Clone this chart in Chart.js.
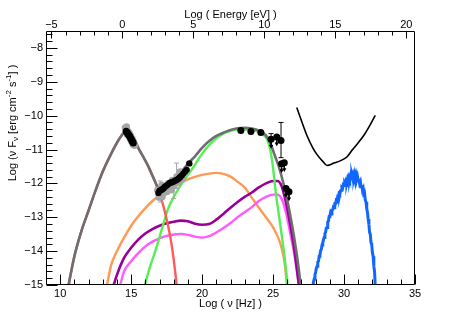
<!DOCTYPE html>
<html>
<head>
<meta charset="utf-8">
<script src="https://cdn.jsdelivr.net/npm/chart.js@4.4.1/dist/chart.umd.min.js"></script>
<style>
  html, body { margin: 0; padding: 0; background: #fff; }
</style>
</head>
<body>
<canvas id="sed" width="463" height="316"></canvas>
<script>
/* SED: synchrotron + SSC model, data points and sensitivity */

// --- axes ---
const nuTicks = [10, 15, 20, 25, 30, 35];
const eTicks = [-5, 0, 5, 10, 15, 20];
const fluxTicks = [-15, -14, -13, -12, -11, -10, -9, -8];
const LOG_H = 14.383; // log(nu/Hz) - log(E/eV)

// --- model curves ---
const syncNu   = [10.5, 11.0, 11.5, 12.0, 12.5, 13.0, 13.5, 14.0, 14.3, 14.6, 14.9, 15.2, 15.5, 15.9, 16.2, 16.5, 16.8, 17.1, 17.4, 17.7, 17.9, 18.1, 18.25];
const syncFlux = [-15.2, -14.15, -13.4, -12.8, -12.2, -11.65, -11.2, -10.8, -10.6, -10.48, -10.52, -10.68, -10.95, -11.25, -11.49, -11.77, -12.08, -12.43, -12.88, -13.45, -13.95, -14.6, -15.2];

const totalNu   = [10.5, 11.0, 11.5, 12.0, 12.5, 13.0, 13.5, 14.0, 14.3, 14.6, 14.9, 15.2, 15.5, 15.9, 16.2, 16.5, 16.8, 17.0, 17.2, 17.5, 17.8, 18.2, 18.6, 19.0, 19.5, 20.0, 20.5, 21.0, 21.5, 22.0, 22.5, 23.0, 23.5, 24.0, 24.5, 24.8, 25.1, 25.4, 25.7, 26.0, 26.3, 26.6, 26.8, 27.0];
const totalFlux = [-15.2, -14.15, -13.4, -12.8, -12.2, -11.65, -11.2, -10.8, -10.6, -10.48, -10.52, -10.68, -10.95, -11.25, -11.49, -11.77, -12.05, -12.2, -12.22, -12.1, -11.95, -11.8, -11.62, -11.42, -11.2, -10.95, -10.75, -10.6, -10.5, -10.42, -10.37, -10.36, -10.38, -10.44, -10.58, -10.8, -11.15, -11.5, -11.95, -12.5, -13.15, -13.9, -14.5, -15.2];

const sscNu   = [15.9, 16.3, 16.7, 17.2, 17.6, 18.0, 18.5, 19.0, 19.5, 20.0, 20.5, 21.0, 21.5, 22.0, 22.5, 23.0, 23.5, 24.0, 24.3, 24.6, 24.8, 25.0, 25.2, 25.5, 25.8, 26.05];
const sscFlux = [-15.1, -14.5, -14.0, -13.3, -12.75, -12.4, -12.05, -11.75, -11.45, -11.12, -10.87, -10.67, -10.53, -10.45, -10.41, -10.41, -10.43, -10.48, -10.56, -10.72, -11.0, -11.55, -12.3, -13.2, -14.15, -15.1];

const orangeNu   = [13.25, 13.6, 14.0, 14.5, 15.0, 15.5, 16.0, 16.5, 17.0, 17.5, 18.0, 18.5, 19.0, 19.5, 20.0, 20.5, 21.0, 21.5, 22.0, 22.5, 23.0, 23.5, 24.0, 24.5, 25.0, 25.5, 25.8, 26.0];
const orangeFlux = [-15.1, -14.4, -14.0, -13.6, -13.25, -12.97, -12.73, -12.52, -12.35, -12.2, -12.08, -11.97, -11.88, -11.81, -11.75, -11.71, -11.69, -11.72, -11.8, -11.95, -12.12, -12.42, -12.72, -13.0, -13.3, -13.76, -14.3, -15.1];

const purpleNu   = [13.7, 14.0, 14.5, 15.0, 15.5, 16.0, 16.5, 17.0, 17.5, 18.0, 18.5, 19.0, 19.5, 20.0, 20.5, 21.0, 21.5, 22.0, 22.5, 23.0, 23.5, 24.0, 24.5, 25.0, 25.3, 25.6, 25.9, 26.2, 26.5, 26.85];
const purpleFlux = [-15.1, -14.7, -14.2, -13.9, -13.66, -13.48, -13.35, -13.25, -13.18, -13.13, -13.1, -13.12, -13.19, -13.22, -13.2, -13.07, -12.9, -12.72, -12.55, -12.4, -12.27, -12.12, -12.0, -11.93, -11.93, -12.08, -12.55, -13.2, -13.95, -15.1];

const pinkNu   = [14.2, 14.5, 15.0, 15.5, 16.0, 16.5, 17.0, 17.5, 18.0, 18.5, 19.0, 19.5, 20.0, 20.5, 21.0, 21.5, 22.0, 22.5, 23.0, 23.5, 24.0, 24.5, 25.0, 25.3, 25.6, 25.9, 26.2, 26.5, 26.85];
const pinkFlux = [-15.05, -14.6, -14.3, -14.06, -13.86, -13.72, -13.62, -13.55, -13.51, -13.49, -13.52, -13.57, -13.6, -13.56, -13.45, -13.32, -13.17, -13.0, -12.85, -12.7, -12.52, -12.4, -12.33, -12.33, -12.45, -12.85, -13.45, -14.1, -15.1];

// sensitivity curve
const sensNu   = [26.67, 27.0, 27.4, 27.8, 28.1, 28.5, 28.8, 29.3, 29.8, 30.2, 30.6, 31.0, 31.4, 31.8, 32.2];
const sensFlux = [-9.76, -10.15, -10.6, -10.95, -11.15, -11.35, -11.47, -11.4, -11.32, -11.22, -11.0, -10.8, -10.58, -10.3, -9.99];

// simulated spectrum (blue)
const blueNu = [27.80, 27.85, 27.90, 27.95, 28.00, 28.05, 28.10, 28.15, 28.20, 28.25, 28.30, 28.35, 28.40, 28.45, 28.50, 28.55, 28.60, 28.65, 28.70, 28.75,
  28.80, 28.85, 28.90, 28.95, 29.00, 29.05, 29.10, 29.15, 29.20, 29.25, 29.30, 29.35, 29.40, 29.45, 29.50, 29.55, 29.60, 29.65, 29.70, 29.75,
  29.80, 29.85, 29.90, 29.95, 30.00, 30.05, 30.10, 30.15, 30.20, 30.25, 30.30, 30.35, 30.40, 30.45, 30.50, 30.55, 30.60, 30.65, 30.70, 30.75,
  30.80, 30.85, 30.90, 30.95, 31.00, 31.05, 31.10, 31.15, 31.20, 31.25, 31.30, 31.35, 31.40, 31.45, 31.50, 31.55, 31.60, 31.65, 31.70, 31.75,
  31.80, 31.85, 31.90, 31.95, 32.00, 32.05, 32.10, 32.15, 32.20];
const blueFlux = [-15.05, -14.9, -14.82, -14.7, -14.62, -14.5, -14.45, -14.32, -14.3, -14.15, -14.12, -13.98, -13.95, -13.82, -13.76, -13.66, -13.6, -13.48, -13.44, -13.32,
  -13.3, -13.14, -13.12, -12.98, -12.97, -12.86, -12.9, -12.8, -12.78, -12.7, -12.72, -12.6, -12.6, -12.5, -12.52, -12.4, -12.42, -12.3, -12.32, -12.22,
  -12.2, -12.12, -12.14, -12.04, -12.06, -11.98, -12.02, -11.92, -11.96, -11.86, -11.92, -11.82, -11.88, -11.78, -11.86, -11.75, -11.84, -11.74, -11.82, -11.72,
  -11.85, -11.76, -11.88, -11.8, -11.92, -11.86, -12.0, -11.95, -12.1, -12.05, -12.2, -12.15, -12.32, -12.3, -12.5, -12.55, -12.75, -12.85, -13.05, -13.2,
  -13.45, -13.5, -13.75, -13.8, -14.05, -14.15, -14.45, -14.6, -15.05];

// --- data points ---
const optGrayNu   = [14.58, 14.62, 14.68, 14.72, 14.78, 14.83, 14.88, 14.93, 14.98, 15.03, 15.08, 15.13, 15.18, 15.24];
const optGrayFlux = [-10.36, -10.45, -10.33, -10.55, -10.46, -10.6, -10.52, -10.68, -10.6, -10.76, -10.68, -10.85, -10.78, -10.88];
const optNu   = [14.65, 14.7, 14.75, 14.8, 14.85, 14.9, 14.95, 15.0, 15.05, 15.1, 15.15];
const optFlux = [-10.46, -10.49, -10.52, -10.55, -10.58, -10.61, -10.65, -10.69, -10.73, -10.77, -10.81];

const xrayGrayNu   = [16.85, 16.95, 17.05, 17.15, 17.3, 17.45, 17.6, 17.75, 17.9, 18.05, 18.2, 18.35, 18.5, 18.65, 18.8, 17.2, 17.55, 17.85, 18.15, 18.45];
const xrayGrayFlux = [-12.2, -12.42, -12.35, -12.05, -12.3, -12.2, -12.0, -12.15, -11.9, -12.08, -11.8, -11.98, -11.7, -11.88, -11.62, -12.4, -12.25, -12.2, -11.95, -11.65];
const xrayGrayErrNu = [17.05, 18.2, 18.0];
const xrayGrayErrLo = [-12.55, -12.15, -12.45];
const xrayGrayErrHi = [-11.93, -11.4, -12.0];
const xrayNu   = [16.92, 17.0, 17.08, 17.17, 17.27, 17.38, 17.5, 17.62, 17.74, 17.85, 17.97, 18.09, 18.21, 18.33, 18.44, 18.56, 18.68, 18.8, 18.91, 19.1];
const xrayFlux = [-12.28, -12.22, -12.2, -12.18, -12.15, -12.1, -12.06, -12.02, -11.98, -11.97, -11.95, -11.92, -11.9, -11.86, -11.82, -11.77, -11.71, -11.65, -11.6, -11.41];

const gevNu   = [22.73, 23.44, 24.14, 25.56];
const gevFlux = [-10.44, -10.47, -10.5, -10.73];
const gevErrNu = [24.86, 25.56];
const gevErrLo = [-10.7, -11.24];
const gevErrHi = [-10.53, -10.2];
const ulNu   = [24.86, 25.26, 25.6, 25.79, 25.91, 26.12];
const ulFlux = [-10.7, -10.63, -11.42, -11.39, -12.15, -12.25];

const FONT = '"Liberation Sans", Arial, sans-serif';

function pts(xs, ys) { return xs.map((x, i) => ({ x: x, y: ys[i] })); }
function segs(xs, lo, hi) {
  const out = [];
  xs.forEach((x, i) => { out.push({ x: x, y: lo[i] }, { x: x, y: hi[i] }, { x: x, y: null }); });
  return out;
}

function curve(data, color, width, order, mono) {
  return { data: data, borderColor: color, borderWidth: width, pointRadius: 0, fill: false,
    cubicInterpolationMode: mono ? 'monotone' : 'default', tension: 0, order: order, xAxisID: 'x', yAxisID: 'y' };
}
function dots(data, color, r, order) {
  return { data: data, showLine: false, pointRadius: r, pointBackgroundColor: color, pointBorderColor: color,
    pointBorderWidth: 0, order: order, xAxisID: 'x', yAxisID: 'y' };
}
function bars(data, color, order) {
  return { data: data, borderColor: color, borderWidth: 1, spanGaps: false, pointStyle: 'line',
    pointRadius: 2.5, pointBorderColor: color, pointBorderWidth: 1, order: order, xAxisID: 'x', yAxisID: 'y' };
}

const ulLen = 0.2;
const ulSegs = segs(ulNu, ulFlux, ulFlux.map(v => v - ulLen));
const ulHeads = pts(ulNu, ulFlux.map(v => v - ulLen));

const frameTicks = {
  id: 'frameTicks',
  afterDatasetsDraw(chart) {
    const { ctx, chartArea: a, scales } = chart;
    ctx.save();
    ctx.strokeStyle = '#000';
    ctx.lineWidth = 1;
    ctx.beginPath();
    const L = Math.round(a.left) + 0.5, R = Math.round(a.right) - 0.5;
    const T = Math.round(a.top) + 0.5, B = Math.round(a.bottom) - 0.5;
    ctx.rect(L, T, R - L, B - T);
    for (let v = 9; v <= 35; v++) {
      const px = Math.round(scales.x.getPixelForValue(v)) + 0.5;
      const len = v % 5 === 0 ? 10 : 5;
      ctx.moveTo(px, B); ctx.lineTo(px, B - len);
    }
    for (let e = -5; e <= 20; e++) {
      const px = Math.round(scales.x2.getPixelForValue(e)) + 0.5;
      const len = e % 5 === 0 ? 7 : 4;
      ctx.moveTo(px, T); ctx.lineTo(px, T + len);
    }
    for (let k = 0; k <= 37; k++) {
      const v = -15 + k * 0.2;
      const py = Math.round(scales.y.getPixelForValue(v)) + 0.5;
      const len = k % 5 === 0 ? 11 : 6;
      ctx.moveTo(L, py); ctx.lineTo(L + len, py);
    }
    ctx.stroke();
    ctx.restore();
  }
};

// y title with sub/superscripts
const yTitleParts = [['Log (\u03bd F', 0], ['\u03bd', 1], [' [erg cm', 0], ['-2', -1], [' s', 0], ['-1', -1], ['] )', 0]];
const yTitle = {
  id: 'yTitle',
  afterDraw(chart) {
    const ctx = chart.ctx;
    ctx.save();
    ctx.translate(13, 123);
    ctx.rotate(-Math.PI / 2);
    ctx.fillStyle = '#000';
    ctx.textBaseline = 'middle';
    const fontFor = s => (s === 0 ? '11px ' : '8px ') + FONT;
    let w = 0;
    yTitleParts.forEach(p => { ctx.font = fontFor(p[1]); w += ctx.measureText(p[0]).width; });
    let x = -w / 2;
    yTitleParts.forEach(p => {
      ctx.font = fontFor(p[1]);
      const dy = p[1] === 1 ? 3 : (p[1] === -1 ? -4 : 0);
      ctx.fillText(p[0], x, dy);
      x += ctx.measureText(p[0]).width;
    });
    ctx.restore();
  }
};

const minus = v => String(v).replace('-', '\u2212');

new Chart(document.getElementById('sed'), {
  type: 'line',
  data: {
    datasets: [
      dots(pts(optNu, optFlux), '#000', 3.5, 0),
      dots(pts(xrayNu, xrayFlux), '#000', 3.2, 0),
      dots(pts(gevNu, gevFlux), '#000', 3.5, 0),
      dots(pts(ulNu, ulFlux), '#000', 3.5, 0),
      bars(segs(gevErrNu, gevErrLo, gevErrHi), '#000', 1),
      { data: ulSegs, borderColor: '#000', borderWidth: 1, spanGaps: false, pointRadius: 0, order: 1, xAxisID: 'x', yAxisID: 'y' },
      { data: ulHeads, showLine: false, pointStyle: 'triangle', rotation: 180, pointRadius: 2.5,
        pointBackgroundColor: '#000', pointBorderColor: '#000', pointBorderWidth: 0, order: 1, xAxisID: 'x', yAxisID: 'y' },
      dots(pts(optGrayNu, optGrayFlux), '#a6a6a6', 3.5, 2),
      dots(pts(xrayGrayNu, xrayGrayFlux), '#a6a6a6', 3.3, 2),
      bars(segs(xrayGrayErrNu, xrayGrayErrLo, xrayGrayErrHi), '#a6a6a6', 2),
      curve(pts(sensNu, sensFlux), '#000', 1.6, 4, true),
      curve(pts(blueNu, blueFlux), '#1166ff', 3, 4, false),
      curve(pts(totalNu, totalFlux), '#6e6e6e', 2.6, 5, true),
      curve(pts(syncNu, syncFlux), '#ff5a5a', 2.4, 6, true),
      curve(pts(sscNu, sscFlux), '#55ee55', 2.4, 7, true),
      curve(pts(purpleNu, purpleFlux), '#990099', 2.6, 8, true),
      curve(pts(pinkNu, pinkFlux), '#ff5cff', 2.4, 9, true),
      curve(pts(orangeNu, orangeFlux), '#ff9955', 2.4, 10, true)
    ]
  },
  options: {
    responsive: false,
    animation: false,
    layout: { padding: { left: 0, right: 48, top: 0, bottom: 0 } },
    plugins: { legend: { display: false }, tooltip: { enabled: false } },
    scales: {
      x: {
        type: 'linear', position: 'bottom', min: 9, max: 35,
        afterBuildTicks: s => { s.ticks = nuTicks.map(v => ({ value: v })); },
        afterFit: s => { s.height = 31; },
        grid: { display: false, drawTicks: false }, border: { display: false },
        ticks: { padding: 2, color: '#000', font: { family: FONT, size: 11 }, callback: minus, maxRotation: 0 },
        title: { display: true, text: 'Log ( \u03bd [Hz] )', color: '#000', font: { family: FONT, size: 11 }, padding: { top: 0, bottom: 5 } }
      },
      x2: {
        type: 'linear', position: 'top', min: 9 - LOG_H, max: 35 - LOG_H,
        afterBuildTicks: s => { s.ticks = eTicks.map(v => ({ value: v })); },
        afterFit: s => { s.height = 31; },
        grid: { display: false, drawTicks: false }, border: { display: false },
        ticks: { padding: -1, color: '#000', font: { family: FONT, size: 11 }, callback: minus, maxRotation: 0 },
        title: { display: true, text: 'Log ( Energy [eV] )', color: '#000', font: { family: FONT, size: 11 }, padding: { top: 8, bottom: 0 } }
      },
      y: {
        type: 'linear', min: -15, max: -7.5,
        afterBuildTicks: s => { s.ticks = fluxTicks.map(v => ({ value: v })); },
        afterFit: s => { s.width = 46; },
        grid: { display: false, drawTicks: false }, border: { display: false },
        ticks: { padding: 3, color: '#000', font: { family: FONT, size: 11 }, callback: minus }
      }
    }
  },
  plugins: [frameTicks, yTitle]
});
</script>
</body>
</html>
